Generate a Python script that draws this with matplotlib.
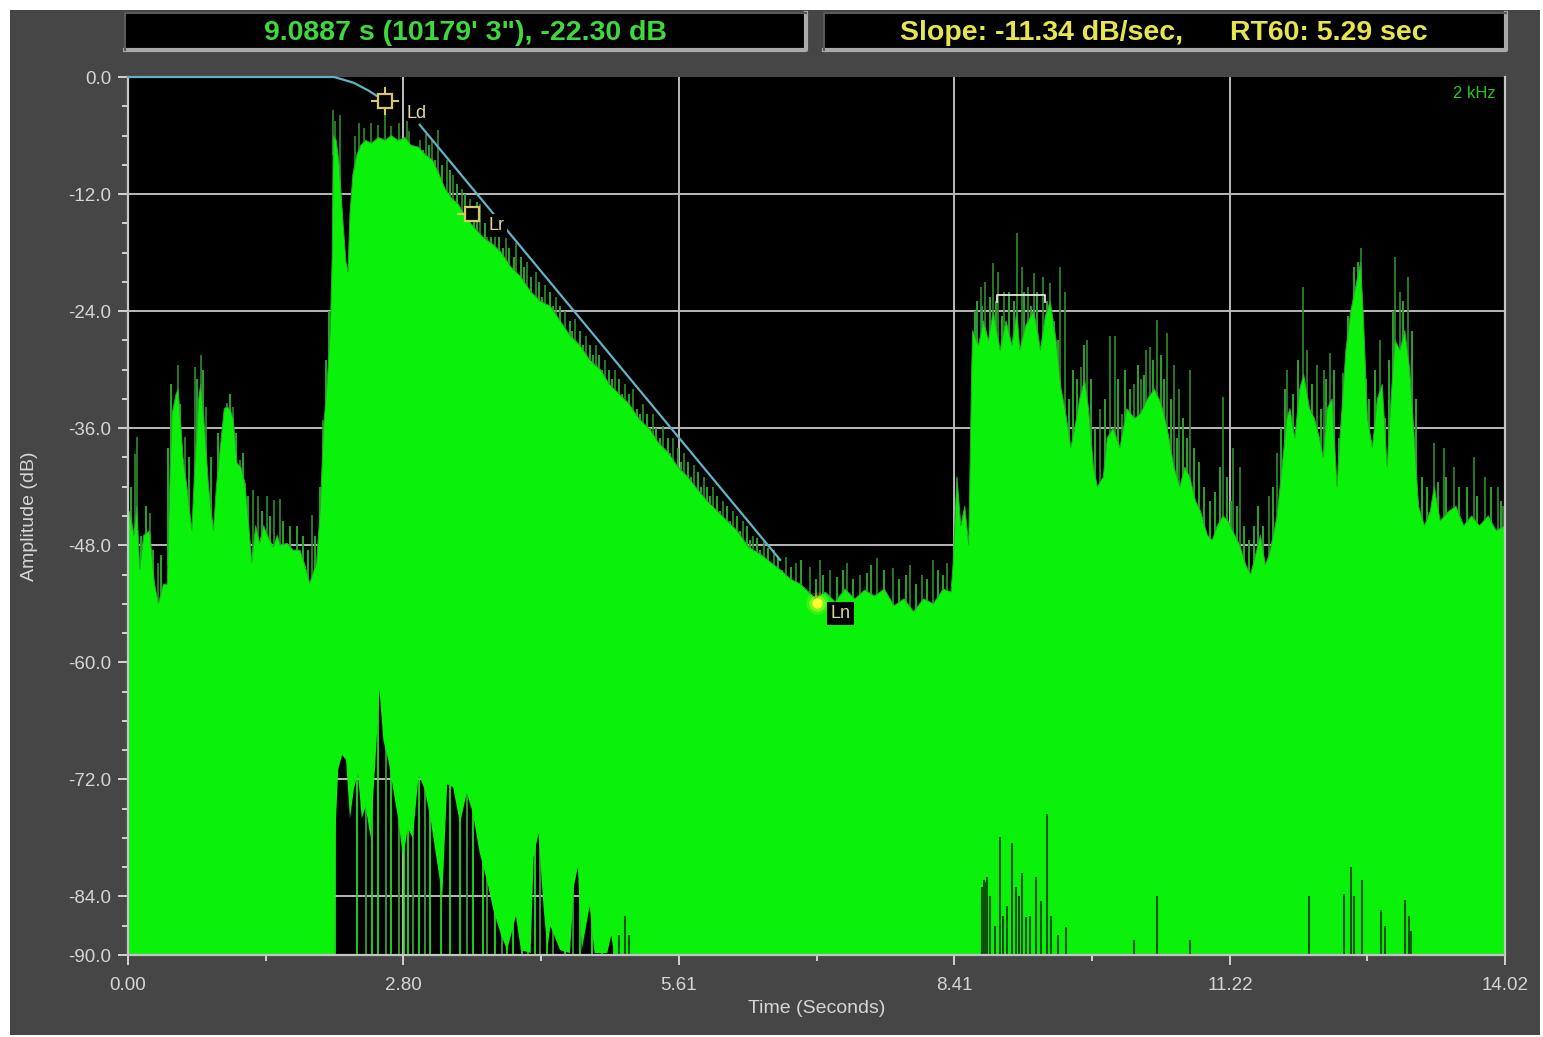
import numpy as np
import matplotlib
matplotlib.use("Agg")
import matplotlib.pyplot as plt
from matplotlib.patches import Rectangle
from matplotlib.lines import Line2D
from matplotlib.ticker import FixedLocator, FixedFormatter

# ---------------- data ----------------
# upper envelope of the bright green level trace (time s, level dB)
env_t = [0.00, 0.02, 0.06, 0.09, 0.12, 0.16, 0.22, 0.27, 0.31, 0.36, 0.40, 0.43, 0.45, 0.49, 0.51,
         0.54, 0.56, 0.60, 0.65, 0.68, 0.72, 0.74, 0.78, 0.82, 0.87, 0.90, 0.94, 0.98, 1.01, 1.04,
         1.07, 1.11, 1.15, 1.19, 1.23, 1.26, 1.30, 1.34, 1.38, 1.42, 1.48, 1.52, 1.55, 1.62, 1.68,
         1.75, 1.80, 1.85, 1.92, 1.96, 1.99, 2.03, 2.06, 2.08,
         2.09, 2.12, 2.15, 2.19, 2.22, 2.24, 2.26, 2.29, 2.33, 2.37, 2.42, 2.48, 2.55, 2.62, 2.68,
         2.75, 2.82, 2.88, 2.96, 3.03, 3.10, 3.16, 3.23, 3.30, 3.36, 3.45, 3.53, 3.62, 3.72, 3.80,
         3.90, 4.00, 4.10, 4.20, 4.30, 4.40, 4.50, 4.60, 4.70, 4.81, 4.90, 5.00, 5.10, 5.20, 5.32,
         5.40, 5.50, 5.60, 5.70, 5.80, 5.90, 6.00, 6.10, 6.20, 6.32, 6.45, 6.55, 6.64, 6.75, 6.85,
         6.90, 7.00, 7.10, 7.20, 7.30, 7.40, 7.50, 7.60, 7.70, 7.80, 7.90, 8.00, 8.10, 8.20, 8.30,
         8.38, 8.40, 8.44, 8.48, 8.52, 8.56, 8.59, 8.60, 8.66, 8.71, 8.76, 8.81, 8.88, 8.94, 9.00,
         9.05, 9.08, 9.14, 9.22, 9.26, 9.29, 9.34, 9.39, 9.45, 9.50, 9.54, 9.60, 9.64, 9.69, 9.74,
         9.78, 9.83, 9.87, 9.93, 9.97, 10.03, 10.10, 10.17, 10.25, 10.31, 10.38, 10.45, 10.52, 10.58,
         10.65, 10.71, 10.76, 10.81, 10.87, 10.92, 10.99, 11.04, 11.09, 11.15, 11.20, 11.27, 11.32,
         11.38, 11.43, 11.48, 11.53, 11.58, 11.62, 11.70, 11.76, 11.80, 11.83, 11.88, 11.93, 11.97,
         12.03, 12.08, 12.13, 12.17, 12.21, 12.26, 12.31, 12.34, 12.40, 12.45, 12.50, 12.55, 12.58,
         12.62, 12.67, 12.72, 12.77, 12.82, 12.86, 12.90, 12.95, 13.00, 13.05, 13.09, 13.14, 13.20,
         13.26, 13.30, 13.36, 13.45, 13.52, 13.60, 13.68, 13.76, 13.85, 13.93, 14.02]
env_db = [-45.0, -44.5, -47.0, -44.0, -50.5, -47.0, -46.5, -52.0, -54.0, -52.0, -52.0, -40.0, -34.5, -32.5, -32.0,
          -36.0, -39.0, -42.0, -46.5, -40.0, -33.0, -31.5, -36.0, -42.0, -46.5, -42.0, -38.0, -34.0, -33.8, -34.1,
          -35.0, -39.6, -40.0, -41.6, -46.0, -49.8, -46.0, -47.8, -46.0, -47.0, -48.2, -47.0, -48.0, -47.8, -48.5,
          -48.5, -50.0, -51.9, -49.8, -44.0, -36.2, -31.0, -26.0, -18.0,
          -6.0, -6.5, -9.0, -15.0, -19.0, -20.0, -14.0, -10.0, -8.0, -7.0, -6.5, -6.8, -6.2, -6.5, -6.0,
          -6.5, -6.2, -7.0, -7.2, -8.0, -8.5, -9.8, -11.5, -12.5, -13.0, -14.5, -15.5, -16.5, -17.2, -18.0,
          -19.5, -20.5, -22.0, -23.0, -23.5, -25.0, -26.5, -27.5, -29.0, -30.0, -31.5, -32.5, -33.5, -35.0, -36.2,
          -37.5, -38.5, -40.0, -41.0, -42.3, -43.5, -44.5, -45.5, -46.5, -48.2, -49.0, -49.8, -50.5, -51.5, -52.0,
          -52.5, -53.5, -52.8, -53.8, -52.5, -53.5, -52.6, -53.2, -52.5, -54.2, -53.5, -54.8, -53.5, -54.0, -52.5,
          -52.8, -50.0, -41.0, -46.0, -44.0, -48.0, -30.0, -26.0, -27.5, -25.0, -27.0, -24.0, -28.0, -25.0, -27.5,
          -24.0, -28.0, -25.5, -24.0, -26.0, -28.0, -24.5, -23.0, -27.0, -32.0, -34.0, -38.0, -36.0, -33.0, -31.0,
          -34.0, -40.0, -42.0, -41.0, -37.0, -36.0, -38.0, -34.0, -35.0, -34.5, -33.0, -32.0, -33.5, -36.0,
          -40.0, -42.0, -40.0, -41.0, -43.5, -44.5, -47.0, -47.5, -46.0, -45.0, -45.5, -47.0, -48.0,
          -50.0, -51.0, -49.0, -47.0, -50.0, -49.0, -45.0, -39.0, -35.0, -34.0, -37.0, -32.0, -30.5,
          -34.0, -35.0, -37.0, -39.0, -34.0, -33.0, -42.0, -37.0, -28.0, -24.0, -21.5, -19.0, -25.0,
          -35.0, -38.0, -33.0, -31.5, -40.0, -33.0, -27.0, -28.0, -26.0, -30.0, -36.0, -44.0, -46.0,
          -44.5, -42.0, -45.5, -44.5, -44.0, -46.0, -45.0, -46.0, -45.0, -46.5, -46.0]

# tall thin peaks above the envelope (time s, peak dB)
spike_t = [0.07, 0.09, 0.22, 0.31, 0.48, 0.51, 0.58, 0.68, 0.74, 0.79, 0.96, 1.01, 1.07, 1.14, 1.19,
           1.27, 1.32, 1.42, 1.49, 1.55, 1.87, 1.99,
           2.09, 2.11, 2.16, 2.31, 2.35, 2.40, 2.47, 2.55, 2.62, 2.68, 2.76, 2.84, 2.86, 2.97, 3.03,
           3.10, 3.16, 3.25, 3.31, 3.40, 3.48, 3.58, 3.66, 3.74, 3.85, 3.95, 4.06, 4.15, 4.25, 4.36,
           4.45, 4.55, 4.66, 4.76, 4.86, 4.96, 5.06, 5.14, 5.24, 5.35, 5.45, 5.55, 5.66, 5.76, 5.86,
           5.96, 6.06, 6.16, 6.26, 6.36, 6.48, 6.58, 6.70, 6.80,
           6.94, 7.05, 7.15, 7.32, 7.45, 7.63, 7.79, 7.96, 8.08, 8.20, 8.34,
           8.68, 8.73, 8.81, 8.86, 8.92, 9.05, 9.10, 9.16, 9.22, 9.32, 9.39, 9.49, 9.54, 9.70, 9.76,
           9.90, 10.00, 10.05, 10.12, 10.24, 10.31, 10.36, 10.41, 10.48, 10.58, 10.65, 10.70, 10.81,
           11.15, 11.25, 11.32, 11.62, 11.70, 11.80, 11.96, 12.00, 12.11, 12.18, 12.24, 12.37, 12.55,
           12.75, 12.90, 12.95, 13.03, 13.30, 13.40, 13.50, 13.70, 13.82, 13.95, 14.00]
spike_db = [-38.6, -36.9, -44.7, -49.8, -33.8, -29.5, -36.9, -29.7, -28.5, -33.8, -37.5, -33.4, -33.8, -39.3, -41.6,
            -42.3, -43.0, -43.0, -43.4, -43.3, -44.9, -35.2,
            -3.4, -4.5, -3.9, -6.0, -4.7, -5.2, -4.7, -4.9, -2.7, -5.0, -4.7, -4.5, -5.5, -6.5, -5.8,
            -6.5, -5.4, -8.5, -10.0, -11.5, -12.5, -13.0, -14.5, -14.0, -16.5, -17.0, -19.0, -20.0, -21.3, -22.5,
            -24.0, -24.8, -26.5, -27.5, -29.0, -30.0, -31.5, -32.0, -33.5, -34.5, -35.8, -37.0, -38.5, -39.8, -41.0,
            -42.0, -43.5, -44.5, -45.5, -47.0, -47.5, -48.5, -49.2, -49.8,
            -50.2, -49.5, -50.5, -49.8, -51.0, -49.3, -50.3, -50.0, -51.0, -49.5, -49.8,
            -21.5, -21.0, -19.1, -20.0, -22.0, -16.0, -19.5, -21.5, -20.1, -20.5, -21.1, -19.5, -22.0, -29.7, -27.0,
            -34.0, -26.6, -26.5, -34.5, -31.5, -31.0, -28.0, -27.7, -24.9, -26.2, -29.5, -32.0, -30.0,
            -32.8, -38.0, -40.0, -43.0, -38.5, -30.0, -21.5, -28.0, -29.5, -30.0, -28.3, -30.3, -17.5,
            -27.0, -18.4, -22.0, -20.5, -37.5, -38.0, -40.0, -39.0, -41.0, -42.0, -44.0]

# dense short peaks hugging the envelope (time s, peak dB)
fine_t = [0.03, 0.13, 0.18, 0.25, 0.34, 0.41, 0.44, 0.53, 0.62, 0.70, 0.76, 0.84, 0.92, 1.04, 1.10,
          1.17, 1.22, 1.36, 1.45, 1.58, 1.65, 1.72, 1.78, 1.83, 1.90, 1.95, 2.02, 2.05,
          3.00, 3.06, 3.13, 3.20, 3.28, 3.35, 3.43, 3.52, 3.55, 3.63, 3.70, 3.78, 3.82, 3.88, 3.93,
          4.00, 4.03, 4.10, 4.18, 4.22, 4.30, 4.33, 4.40, 4.50, 4.52, 4.60, 4.63, 4.70, 4.73, 4.80,
          4.83, 4.90, 4.93, 5.00, 5.03, 5.10, 5.18, 5.21, 5.28, 5.31, 5.38, 5.42, 5.50, 5.52, 5.60,
          5.63, 5.70, 5.73, 5.80, 5.83, 5.90, 5.93, 6.00, 6.03, 6.10, 6.13, 6.20, 6.23, 6.30, 6.33,
          6.40, 6.43, 6.52, 6.62, 6.66, 6.75,
          6.85, 7.00, 7.08, 7.22, 7.28, 7.38, 7.52, 7.56, 7.70, 7.85, 7.92, 8.02, 8.14, 8.25, 8.30,
          8.62, 8.64, 8.70, 8.78, 8.84, 8.90, 8.97, 9.02, 9.12, 9.19, 9.26, 9.36, 9.43, 9.47, 9.58,
          9.62, 9.66, 9.73, 9.80, 9.85, 9.95, 10.08, 10.15, 10.20, 10.28, 10.34, 10.44, 10.52, 10.55,
          10.62, 10.68, 10.74, 10.78, 10.85, 10.90, 10.96, 11.02, 11.07, 11.12, 11.19, 11.23, 11.29,
          11.36, 11.41, 11.46, 11.51, 11.56, 11.66, 11.74, 11.78, 11.86, 11.91, 12.05, 12.15, 12.20,
          12.28, 12.33, 12.42, 12.48, 12.52, 12.60, 12.64, 12.70, 12.80, 12.84, 12.88, 12.98, 13.07,
          13.11, 13.17, 13.23, 13.34, 13.42, 13.55, 13.63, 13.74, 13.88, 13.98]
fine_db = [-42.0, -47.0, -44.0, -48.5, -49.0, -38.0, -31.5, -33.5, -39.0, -31.0, -30.0, -39.0, -36.5, -32.5, -36.5,
           -38.5, -43.0, -44.5, -45.0, -45.5, -46.0, -46.0, -47.0, -48.5, -47.0, -42.0, -29.0, -24.0,
           -7.5, -7.0, -8.5, -9.0, -9.5, -11.0, -12.0, -13.5, -12.8, -15.0, -15.5, -16.0, -17.5, -17.5, -18.5,
           -18.5, -19.5, -20.5, -21.0, -22.5, -22.0, -23.5, -23.5, -25.0, -26.0, -26.0, -27.5, -27.5, -28.5, -28.5,
           -30.0, -30.0, -31.0, -31.0, -32.5, -32.5, -34.0, -34.5, -34.5, -36.0, -36.0, -37.0, -37.0, -38.5, -38.0,
           -39.5, -39.5, -41.0, -40.5, -42.0, -42.0, -43.0, -43.0, -44.5, -44.0, -45.5, -45.0, -46.5, -46.0, -47.5,
           -47.3, -48.5, -48.3, -49.2, -50.5, -50.2,
           -49.5, -51.5, -51.0, -51.3, -50.5, -51.5, -50.8, -50.0, -50.5, -51.5, -51.0, -52.0, -51.5, -50.5, -51.0,
           -24.0, -23.0, -23.5, -22.5, -23.0, -24.5, -22.0, -23.0, -22.0, -23.5, -22.0, -23.0, -25.0, -27.0, -33.0,
           -30.0, -31.0, -27.5, -31.0, -36.0, -33.0, -31.0, -30.0, -32.0, -29.5, -30.5, -29.0, -28.5, -31.0,
           -33.0, -37.0, -35.0, -37.0, -38.0, -39.5, -42.0, -43.5, -42.5, -40.0, -41.0, -43.5, -44.0,
           -46.0, -47.5, -46.0, -44.0, -46.0, -42.0, -36.0, -32.0, -32.5, -29.0, -31.5, -34.0, -31.0,
           -30.0, -37.0, -24.5, -19.5, -19.0, -31.0, -33.0, -30.0, -35.0, -29.0, -24.0, -23.0, -26.0,
           -33.0, -41.0, -42.0, -41.5, -41.0, -42.0, -42.0, -43.0, -42.0, -43.5]

# lower edge of the green trace (gaps near the floor), time s / dB
low_t = [0.00, 2.10, 2.11, 2.14, 2.18, 2.22, 2.26, 2.30, 2.34, 2.38, 2.42, 2.47, 2.52, 2.56, 2.60,
         2.65, 2.70, 2.75, 2.80, 2.85, 2.90, 2.96, 3.02, 3.08, 3.14, 3.20, 3.25, 3.31, 3.38, 3.45,
         3.51, 3.58, 3.66, 3.72, 3.80, 3.86, 3.95, 4.00, 4.10, 4.13, 4.18, 4.23, 4.27, 4.30, 4.40,
         4.50, 4.54, 4.58, 4.62, 4.70, 4.75, 4.88, 4.92, 4.95, 14.02]
low_db = [-90.0, -90.0, -78.0, -71.0, -69.5, -70.0, -76.0, -73.0, -71.3, -76.0, -74.8, -78.0, -70.0, -62.8, -68.0,
          -70.0, -73.0, -76.0, -80.0, -77.0, -78.0, -71.5, -73.0, -76.0, -80.0, -84.0, -72.5, -72.8, -76.5, -73.4,
          -75.4, -79.5, -82.6, -85.4, -88.0, -89.5, -86.0, -89.5, -89.8, -80.0, -77.5, -85.0, -89.5, -87.0, -89.5,
          -89.8, -83.0, -81.0, -89.5, -85.0, -89.8, -89.8, -88.0, -89.9, -90.0]

# green strokes crossing the gaps
gap_lines_bright = [2.108, 2.33, 2.48, 2.55, 2.68, 2.81, 2.855, 2.963, 3.075, 3.184, 3.279, 3.381, 3.51,
                    3.612, 3.737, 3.856, 3.917, 4.009, 4.145, 4.27, 4.45, 4.603, 4.722, 4.824, 4.949]
gap_lines_mid = [2.42, 2.63, 2.76, 2.905, 3.024, 3.449, 3.653, 3.805, 4.077, 4.196, 4.331, 4.535, 5.112]

# dark dropouts at the bottom of the trace (time s, top dB)
drop_t = [5.00, 5.06, 5.10, 8.69, 8.70, 8.72, 8.74, 8.75, 8.78, 8.83, 8.88, 8.91, 8.95, 9.00, 9.04,
          9.07, 9.10, 9.14, 9.18, 9.24, 9.30, 9.36, 9.40, 9.47, 9.55, 10.24, 10.48, 10.81, 12.02,
          12.38, 12.45, 12.48, 12.56, 12.76, 12.80, 13.00, 13.04, 13.06]
drop_db = [-88.0, -86.0, -88.0, -85.0, -83.0, -82.3, -82.5, -82.0, -84.0, -87.0, -77.9, -86.0, -85.0, -78.5, -83.0,
           -84.0, -81.6, -86.1, -86.0, -82.0, -84.5, -75.5, -86.0, -88.0, -87.1, -88.5, -84.0, -88.5, -84.0,
           -83.7, -81.0, -84.0, -82.3, -85.4, -87.0, -84.4, -86.0, -87.5]

# decay curve and regression line
decay_t = [0.00, 2.10, 2.30, 2.45, 2.62]
decay_db = [0.0, 0.0, -0.6, -1.4, -2.5]
fit_t = [2.97, 6.64]
fit_db = [-4.9, -49.5]

# markers
Ld = (2.62, -2.46)
Lr = (3.50, -14.04)
Ln = (7.02, -53.9)
ref_mark_t = 2.80
cursor_t, cursor_db = 9.0887, -22.30

x_ticks = [0.00, 2.80, 5.61, 8.41, 11.22, 14.02]
x_tick_labels = ["0.00", "2.80", "5.61", "8.41", "11.22", "14.02"]
x_minor = [1.40, 4.21, 7.01, 9.82, 12.62]
y_ticks = [0.0, -12.0, -24.0, -36.0, -48.0, -60.0, -72.0, -84.0, -90.0]
y_tick_labels = ["0.0", "-12.0", "-24.0", "-36.0", "-48.0", "-60.0", "-72.0", "-84.0", "-90.0"]
y_minor = [-3, -6, -9, -15, -18, -21, -27, -30, -33, -39, -42, -45, -51, -54, -57,
           -63, -66, -69, -75, -78, -81, -87]

header_left = "9.0887 s (10179' 3\"), -22.30 dB"
header_slope = "Slope: -11.34 dB/sec,"
header_rt = "RT60: 5.29 sec"
band_label = "2 kHz"

# ---------------- figure ----------------
W, H = 1543, 1037
plt.rcParams["font.family"] = ["Liberation Sans", "DejaVu Sans"]
fig = plt.figure(figsize=(W / 100, H / 100), dpi=100, facecolor="white")

def px_rect(x0, y0, x1, y1, **kw):
    r = Rectangle((x0 / W, 1 - y1 / H), (x1 - x0) / W, (y1 - y0) / H,
                  transform=fig.transFigure, **kw)
    fig.add_artist(r)
    return r

def px_line(xs, ys, **kw):
    fig.add_artist(Line2D([x / W for x in xs], [1 - y / H for y in ys],
                          transform=fig.transFigure, **kw))

# dark frame
px_rect(10, 10, 1540, 1035, facecolor="#464646", edgecolor="none", zorder=0)

# header boxes
for (x0, x1) in [(125, 806), (824, 1506)]:
    px_rect(x0, 13, x1, 50, facecolor="black", edgecolor="none", zorder=1)
    px_line([x0, x1, x1], [50, 50, 13], color="#a9a9a9", lw=3, zorder=2)
    px_line([x0, x0, x1], [50, 13, 13], color="#5a5a5a", lw=1.5, zorder=2)

hdr_font = dict(fontsize=20.5, fontweight="bold", va="center")
fig.text(465 / W, 1 - 33 / H, header_left, ha="center", color="#3fd93f", **hdr_font)
fig.text(1042 / W, 1 - 33 / H, header_slope, ha="center", color="#e6e64c", **hdr_font)
fig.text(1329 / W, 1 - 33 / H, header_rt, ha="center", color="#e6e64c", **hdr_font)

ax = fig.add_axes([128 / W, (H - 955) / H, 1377 / W, 878 / H])
ax.set_facecolor("black")
ax.set_xlim(0, 14.02)
ax.set_ylim(-90, 0)

# grid (drawn below the trace)
ax.set_axisbelow(True)
for yv in y_ticks[1:-1]:
    ax.axhline(yv, color="#b9b9b9", lw=1.4, zorder=0.5)
for xv in x_ticks[1:-1]:
    ax.axvline(xv, color="#b9b9b9", lw=1.4, zorder=0.5)

# strokes inside the gaps
ax.vlines(gap_lines_bright, -90, -56, color="#22ee22", lw=1.2, zorder=1.5)
ax.vlines(gap_lines_mid, -90, -56, color="#3a9a3a", lw=1.3, zorder=1.5)

# peaks (only the part above the envelope remains visible)
spike_base = np.interp(spike_t, env_t, env_db) - 2
ax.vlines(spike_t, spike_base, spike_db, color="#2f8c2f", lw=1.2, zorder=1.8)
fine_base = np.interp(fine_t, env_t, env_db) - 2
ax.vlines(fine_t, fine_base, fine_db, color="#2f9a2f", lw=1.5, zorder=1.8)

# main green trace
poly_t = list(env_t) + list(low_t[::-1])
poly_db = list(env_db) + list(low_db[::-1])
ax.fill(poly_t, poly_db, color="#0af20a", lw=0, zorder=2)
ax.plot(env_t, env_db, color="#2aa82a", lw=0.7, zorder=2.1)

# dark dropouts
ax.vlines(drop_t, -90, drop_db, color="#0b520b", lw=1.5, zorder=2.5)

# decay curve and regression line
ax.plot(decay_t, decay_db, color="#63b3c6", lw=1.6, zorder=4, clip_on=False)
ax.plot(fit_t, fit_db, color="#63b3c6", lw=1.6, zorder=4)
ax.plot([ref_mark_t, ref_mark_t], [0, -5.2], color="#bdbdbd", lw=1.2, zorder=4)

# markers
mk = "#d9c66a"
ax.plot(*Ld, marker="+", ms=20, mew=1.5, color=mk, zorder=5)
ax.plot(*Ld, marker="s", ms=10, mfc="black", mec=mk, mew=1.6, zorder=6)
ax.text(Ld[0] + 0.22, Ld[1] - 1.3, "Ld", color="#e3d49a", fontsize=13, va="center", zorder=7)
ax.plot(Lr[0] - 0.09, Lr[1], marker="_", ms=8, mew=1.5, color=mk, zorder=5)
ax.plot(*Lr, marker="s", ms=10, mfc="black", mec=mk, mew=1.6, zorder=6)
ax.text(Lr[0] + 0.17, Lr[1] - 1.2, "Lr", color="#e3d49a", fontsize=13, va="center", zorder=7,
        bbox=dict(facecolor="black", edgecolor="none", pad=2))
for s, a in [(260, 0.18), (140, 0.35), (55, 1.0)]:
    ax.scatter([Ln[0]], [Ln[1]], s=s, color="#ffff30", alpha=a, lw=0, zorder=6)
ax.text(Ln[0] + 0.13, Ln[1] - 1.1, "Ln", color="#e3d49a", fontsize=13, va="center", zorder=7,
        bbox=dict(facecolor="black", edgecolor="none", pad=2.5))

# cursor bracket
hw = 0.245
ax.plot([cursor_t - hw, cursor_t - hw, cursor_t + hw, cursor_t + hw],
        [cursor_db - 0.8, cursor_db, cursor_db, cursor_db - 0.8], color="#e6e6e6", lw=1.3, zorder=4)

ax.text(0.993, 0.99, band_label, transform=ax.transAxes, ha="right", va="top",
        color="#22c822", fontsize=12, zorder=7)

# axes styling
for side in ["left", "bottom", "right"]:
    ax.spines[side].set_color("#c4c4c4")
    ax.spines[side].set_linewidth(1.6)
ax.spines["top"].set_visible(False)
ax.spines["right"].set_zorder(3)

ax.xaxis.set_major_locator(FixedLocator(x_ticks))
ax.xaxis.set_major_formatter(FixedFormatter(x_tick_labels))
ax.xaxis.set_minor_locator(FixedLocator(x_minor))
ax.yaxis.set_major_locator(FixedLocator(y_ticks))
ax.yaxis.set_major_formatter(FixedFormatter(y_tick_labels))
ax.yaxis.set_minor_locator(FixedLocator(y_minor))
ax.tick_params(axis="both", which="major", colors="#d2d2d2", labelcolor="#d6d6d6",
               labelsize=13.5, length=7, width=1.4, direction="out")
ax.tick_params(axis="both", which="minor", colors="#d2d2d2", length=4, width=1.4, direction="out")
ax.tick_params(axis="x", pad=9)
ax.tick_params(axis="y", pad=5)

ax.set_xlabel("Time (Seconds)", color="#d6d6d6", fontsize=14, labelpad=4)
ax.set_ylabel("Amplitude (dB)", color="#d6d6d6", fontsize=14, labelpad=22)

fig.savefig("out.png", dpi=100, facecolor=fig.get_facecolor())
